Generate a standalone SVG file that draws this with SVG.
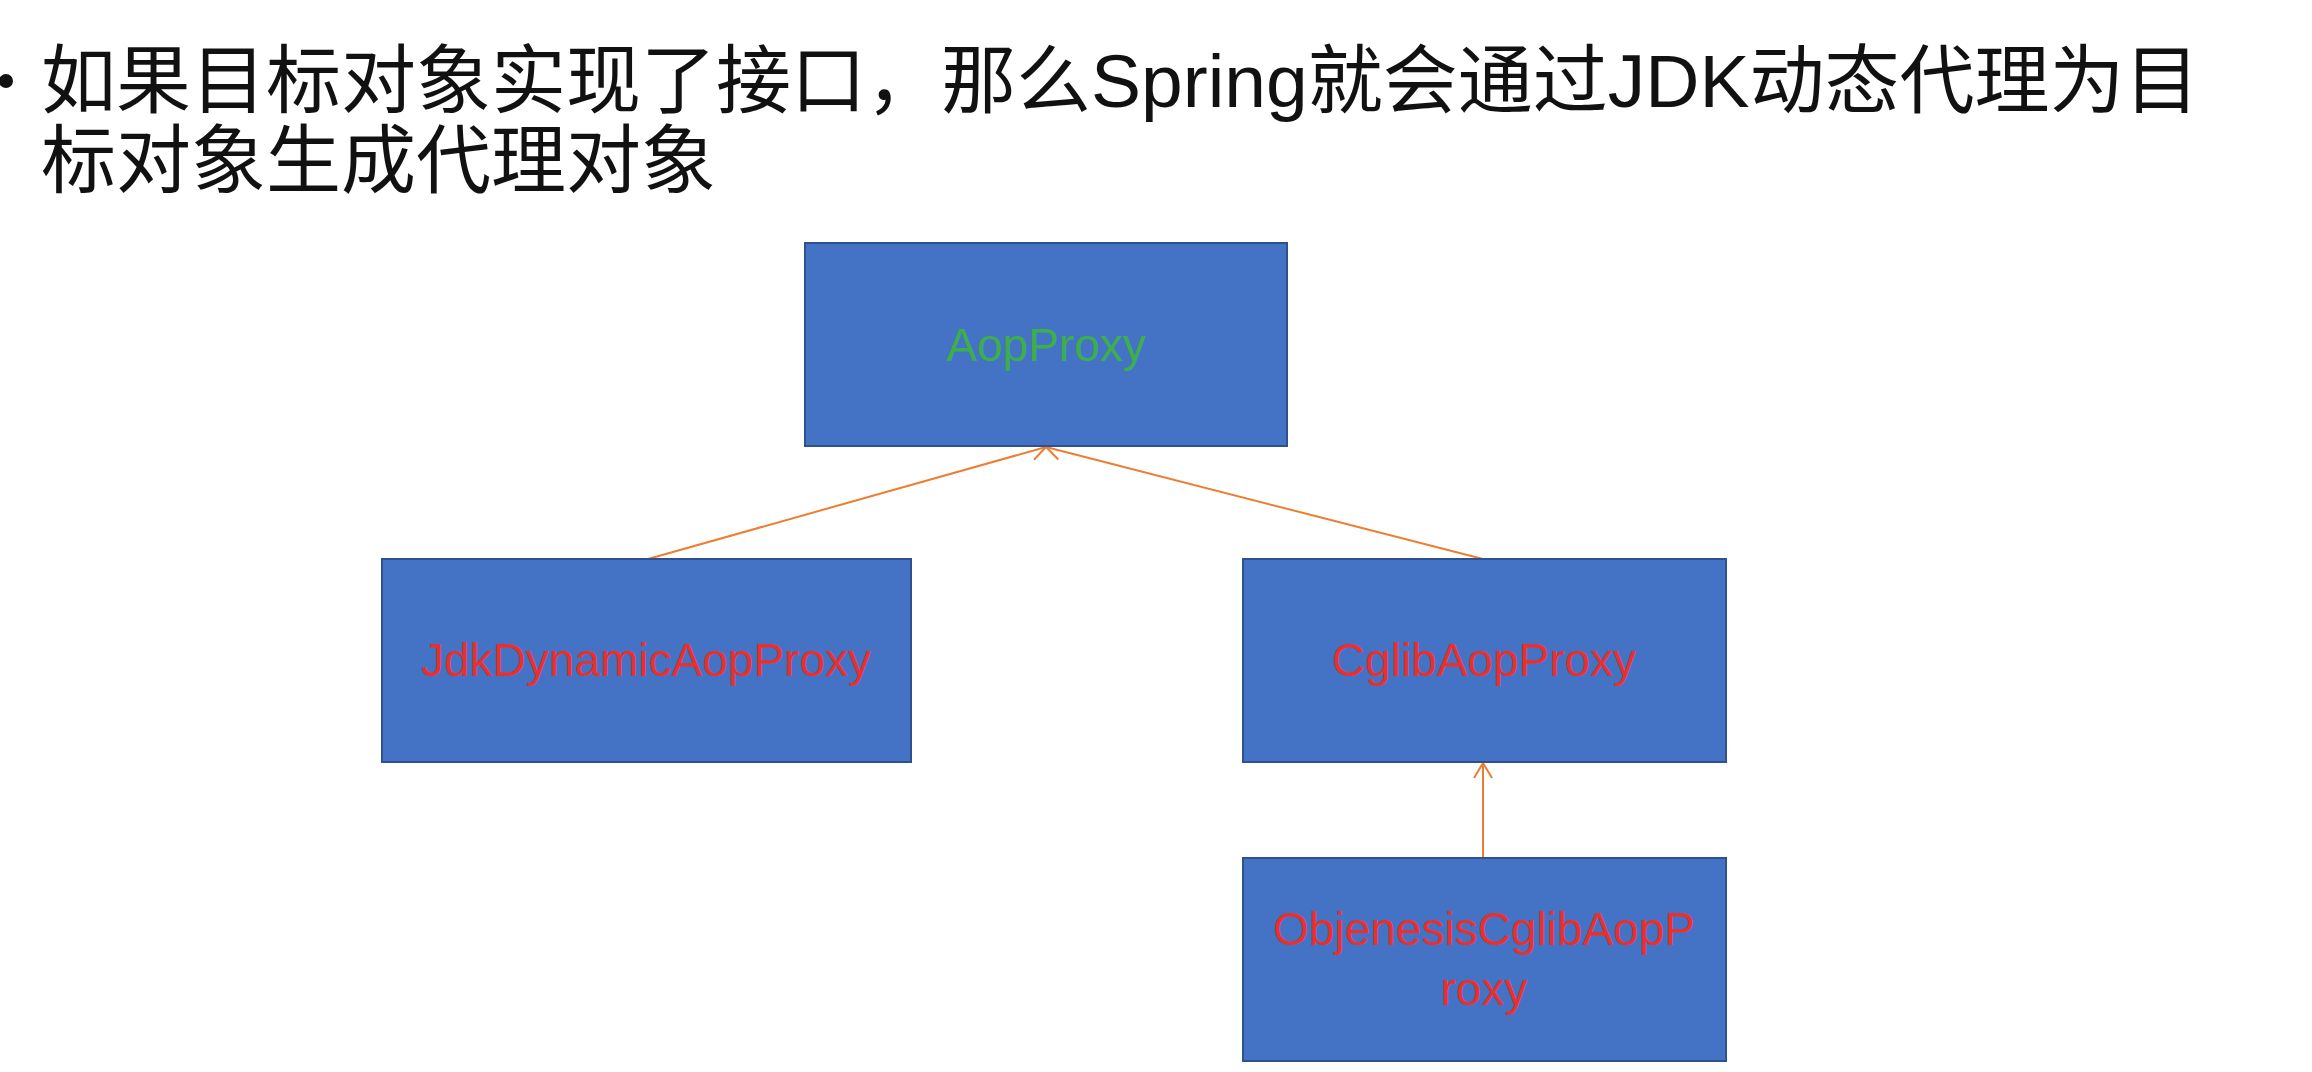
<svg xmlns="http://www.w3.org/2000/svg" width="2312" height="1072" viewBox="0 0 2312 1072">
  <defs>
    <style>
      .title { font-family: "Liberation Sans", "Noto Sans CJK SC", sans-serif; font-size: 75px; fill: #111111; }
      .box { fill: #4472C4; stroke: #2F528F; stroke-width: 2; }
      .lbl { font-family: "Liberation Sans", Arial, sans-serif; font-size: 46px; text-anchor: middle; }
      .red { fill: #E8302F; }
      .green { fill: #3DAE4E; }
      .conn { stroke: #ED7D31; stroke-width: 2; fill: none; marker-end: url(#arrow); }
    </style>
    <marker id="arrow" markerUnits="userSpaceOnUse" markerWidth="24" markerHeight="24" viewBox="-20 -12 24 24" refX="0" refY="0" orient="auto">
      <path d="M -15 -9 L 0 0 L -15 9" fill="none" stroke="#ED7D31" stroke-width="2"/>
    </marker>
  </defs>
  <rect width="2312" height="1072" fill="#ffffff"/>

  <g id="header">
    <circle cx="6" cy="81" r="7" fill="#111111"/>
    <text class="title" x="41" y="107">如果目标对象实现了接口，那么Spring就会通过JDK动态代理为目</text>
    <text class="title" x="41" y="187">标对象生成代理对象</text>
  </g>

  <g id="connectors">
    <line class="conn" x1="648" y1="559" x2="1046" y2="447"/>
    <line class="conn" x1="1483" y1="559" x2="1046" y2="447"/>
    <line class="conn" x1="1483" y1="858" x2="1483" y2="763"/>
  </g>

  <g id="node-aopproxy">
    <rect class="box" x="805" y="243" width="482" height="203"/>
    <text class="lbl green" x="1046" y="361">AopProxy</text>
  </g>

  <g id="node-jdkdynamicaopproxy">
    <rect class="box" x="382" y="559" width="529" height="203"/>
    <text class="lbl red" x="646" y="676">JdkDynamicAopProxy</text>
  </g>

  <g id="node-cglibaopproxy">
    <rect class="box" x="1243" y="559" width="483" height="203"/>
    <text class="lbl red" x="1484" y="676">CglibAopProxy</text>
  </g>

  <g id="node-objenesiscglibaopproxy">
    <rect class="box" x="1243" y="858" width="483" height="203"/>
    <text class="lbl red" x="1484" y="945">ObjenesisCglibAopP</text>
    <text class="lbl red" x="1484" y="1005">roxy</text>
  </g>
</svg>
